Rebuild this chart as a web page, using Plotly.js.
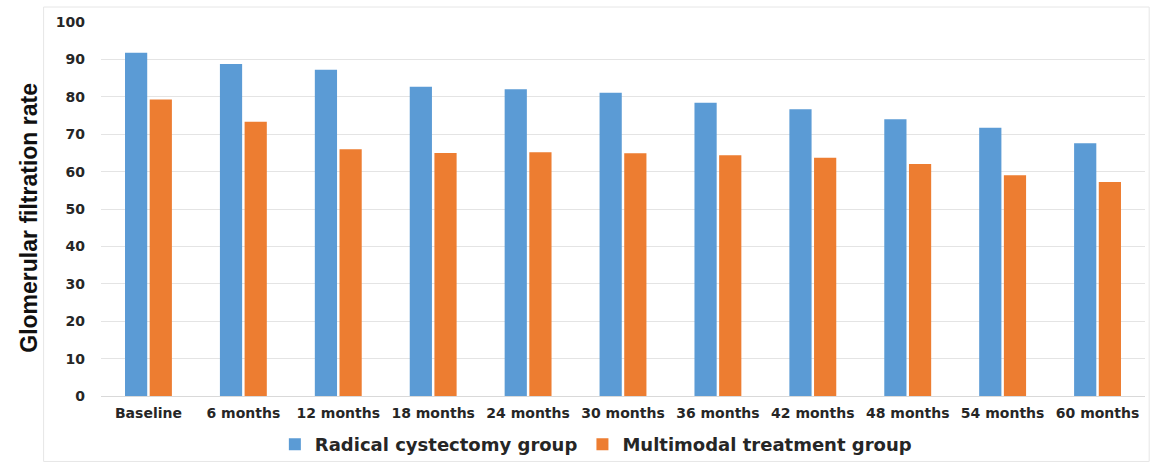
<!DOCTYPE html>
<html>
<head>
<meta charset="utf-8">
<script src="https://cdn.plot.ly/plotly-3.0.1.min.js"></script>
<style>html,body{margin:0;padding:0;background:#fff;}#chart{width:1152px;height:464px;}</style>
</head>
<body>
<div id="chart"></div>
<script>
const categories = ["Baseline","6 months","12 months","18 months","24 months","30 months","36 months","42 months","48 months","54 months","60 months"];
const radicalCystectomy = [91.8, 88.8, 87.2, 82.7, 82.0, 81.1, 78.4, 76.7, 74.0, 71.7, 67.6];
const multimodalTreatment = [79.3, 73.3, 66.0, 65.0, 65.2, 64.9, 64.4, 63.7, 62.0, 59.0, 57.2];
const yTicks = [0,10,20,30,40,50,60,70,80,90,100];
const yTitle = "Glomerular filtration rate";

const tickFont = {family: "DejaVu Sans, Verdana, sans-serif", size: 14, color: "#262626", weight: 700};

const data = [
  {type: "bar", name: "Radical cystectomy group", x: categories, y: radicalCystectomy, marker: {color: "#5B9BD5"}},
  {type: "bar", name: "Multimodal treatment group", x: categories, y: multimodalTreatment, marker: {color: "#ED7D31"}}
];

const layout = {
  width: 1152, height: 464,
  margin: {l: 101, r: 7, t: 22, b: 68, autoexpand: false},
  paper_bgcolor: "#fff", plot_bgcolor: "#fff",
  barmode: "group", bargap: 0.48, bargroupgap: 0.1,
  showlegend: true,
  legend: {orientation: "h", x: 0.474, xanchor: "center", y: -0.13, yanchor: "middle", bgcolor: "rgba(0,0,0,0)",
           font: {family: "DejaVu Sans, Verdana, sans-serif", size: 18, color: "#262626", weight: 700},
           itemwidth: 30, traceorder: "normal"},
  xaxis: {type: "category", tickfont: tickFont, showgrid: false, showline: true, linecolor: "#d9d9d9", ticks: "", ticklen: 0, ticklabelstandoff: 4},
  yaxis: {range: [0, 100], tickvals: yTicks, ticktext: yTicks.map(String), tickfont: tickFont,
          showgrid: true, gridcolor: "#e4e4e4", zeroline: false, showline: false, ticks: "", ticklabelstandoff: 15},
  annotations: [{text: yTitle, xref: "paper", yref: "paper", x: -0.0685, y: 0.478, xanchor: "center", yanchor: "middle",
                 textangle: -90, showarrow: false,
                 font: {family: "Liberation Sans Narrow, Arial Narrow, sans-serif", size: 23, color: "#111", weight: 700}}],
  shapes: [{type: "rect", xref: "paper", yref: "paper", x0: -0.055, x1: 1.004, y0: -0.175, y1: 1.04, line: {color: "#e6e6e6", width: 1}, layer: "below"}]
};

Plotly.newPlot("chart", data, layout, {staticPlot: true, displayModeBar: false});
</script>
</body>
</html>
